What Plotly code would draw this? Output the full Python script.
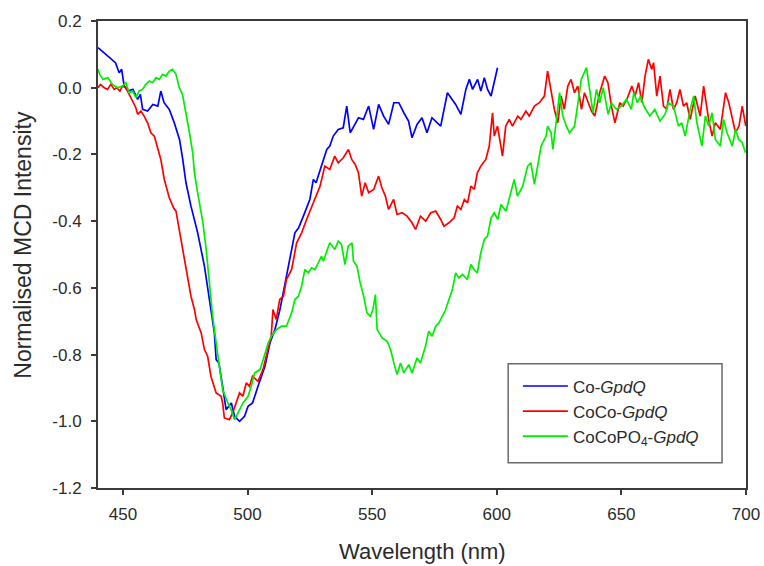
import plotly.graph_objects as go

# ---- Co-GpdQ (blue) ----
co_nm = [440, 442.4, 445, 447, 448.5, 449.5, 450.5, 452, 454, 455.9, 457, 457.9, 459.9, 462, 464,
         465.2, 466.5, 468.6, 470.6, 472.7, 474, 475.3, 477.3, 478.7, 480, 482.7, 484.7, 486.7, 487.4,
         488.5, 490, 491.4, 493.5, 494.8, 496.8, 498.8, 500.2, 502, 504.2, 507, 509, 511, 513, 514.4,
         516.4, 519, 520.5, 522.4, 525, 526.4, 527.5, 529, 531, 531.8, 533, 534.4, 536.4, 538.4, 539.8,
         541.2, 542.7, 544.5, 546.5, 548.6, 550.6, 552.6, 554.6, 556.6, 558.7, 560.7, 562.7, 564.6, 566,
         568, 570, 572, 574, 575.4, 577.5, 580.2, 582.2, 583.5, 585.6, 587.6, 589, 590.3, 592.3, 593.6,
         595, 596.3, 597.7, 599, 600.3]
co_val = [0.12, 0.105, 0.09, 0.075, 0.045, 0.055, 0.005, -0.01, -0.005, -0.035, -0.02, -0.065, -0.07,
          -0.05, -0.055, -0.01, -0.045, -0.065, -0.105, -0.155, -0.215, -0.285, -0.355, -0.395, -0.435,
          -0.535, -0.635, -0.735, -0.815, -0.825, -0.895, -0.965, -0.945, -0.985, -1.0, -0.985, -0.955,
          -0.945, -0.895, -0.835, -0.765, -0.725, -0.665, -0.615, -0.535, -0.435, -0.42, -0.385, -0.335,
          -0.275, -0.285, -0.25, -0.205, -0.185, -0.175, -0.145, -0.125, -0.12, -0.055, -0.135, -0.115,
          -0.09, -0.095, -0.055, -0.125, -0.05, -0.085, -0.11, -0.045, -0.045, -0.075, -0.1, -0.15, -0.11,
          -0.09, -0.135, -0.09, -0.1, -0.115, -0.015, -0.035, -0.05, -0.08, -0.005, 0.025, -0.005, 0.025,
          -0.01, 0.03, -0.005, -0.025, 0.015, 0.06]

# ---- CoCo-GpdQ (red) ----
coco_nm = [440, 441, 442.5, 443.8, 445.2, 446.5, 447.5, 448.8, 449.8, 451.2, 452.5, 453.8, 455.2, 455.9,
           457.2, 458.5, 459.9, 461.2, 462.6, 463.9, 465.2, 466.6, 467.3, 468.6, 470.3, 471.3, 472, 473.3,
           474.7, 476, 477.3, 478.7, 479.4, 481.4, 482.7, 484, 485.3, 487.4, 489.4, 490, 490.7, 492.7, 494,
           495.4, 496.8, 498.1, 499.5, 500.8, 502, 504.2, 506.2, 507.5, 509.5, 510.2, 511.5, 512.9, 514.4,
           515.6, 517.7, 519.7, 521.7, 523.7, 525.7, 526.4, 529.1, 531, 533, 535, 536.4, 538.4, 540.5,
           541.8, 543.2, 544.5, 545.8, 547.2, 548.6, 550.6, 552.6, 553.9, 555.3, 556.6, 558.6, 560, 562,
           564, 566, 567.4, 569.4, 571.5, 573.5, 575.5, 577.5, 578.8, 580.8, 582.9, 584.2, 585.6, 587,
           588.3, 589.6, 591, 592.2, 593.6, 595.6, 597, 598.3, 599, 600.3, 602.3, 603.6, 605, 606.3, 608.4,
           609.7, 611.7, 613, 615.1, 617.1, 619.1, 620.4, 621.8, 623.1, 624.5, 625.8, 627.1, 628.5, 629.8,
           631.2, 632.5, 634, 635.2, 636.6, 638, 639.3, 641.3, 643.3, 644.6, 646, 647.4, 649.4, 650.7,
           652.2, 654.2, 655.5, 656.9, 658.2, 659.5, 660.8, 662.2, 662.9, 664.2, 665.5, 666.9, 668.2,
           669.5, 670.9, 672.2, 673.5, 674.9, 676.2, 677.6, 679.6, 681.6, 683, 685, 686.4, 687.7, 689.7,
           691.8, 693.1, 694.5, 695.8, 697.2, 698.5, 699.9]
coco_val = [0.0, 0.01, 0.0, -0.005, 0.01, -0.005, 0.0, -0.01, 0.005, 0.0, -0.02, -0.04, -0.06, -0.08,
            -0.07, -0.085, -0.105, -0.135, -0.145, -0.18, -0.215, -0.275, -0.295, -0.33, -0.36, -0.37,
            -0.40, -0.455, -0.515, -0.565, -0.625, -0.665, -0.695, -0.735, -0.785, -0.805, -0.865, -0.915,
            -0.925, -0.945, -0.99, -0.995, -0.975, -0.945, -0.915, -0.925, -0.885, -0.895, -0.865, -0.88,
            -0.845, -0.805, -0.745, -0.665, -0.695, -0.635, -0.625, -0.575, -0.545, -0.465, -0.435, -0.395,
            -0.355, -0.345, -0.295, -0.235, -0.245, -0.205, -0.225, -0.21, -0.185, -0.215, -0.23, -0.255,
            -0.325, -0.285, -0.315, -0.305, -0.265, -0.30, -0.325, -0.365, -0.335, -0.38, -0.375, -0.385,
            -0.405, -0.425, -0.385, -0.40, -0.375, -0.37, -0.395, -0.415, -0.405, -0.39, -0.355, -0.365,
            -0.335, -0.345, -0.295, -0.305, -0.255, -0.235, -0.215, -0.175, -0.075, -0.145, -0.115, -0.205,
            -0.115, -0.095, -0.115, -0.085, -0.095, -0.07, -0.085, -0.055, -0.045, -0.025, 0.05, -0.015,
            -0.065, -0.105, -0.025, -0.065, 0.005, 0.025, -0.015, 0.005, -0.065, -0.015, -0.045, -0.07,
            -0.085, -0.015, 0.035, 0.015, -0.055, -0.105, -0.045, -0.055, -0.035, 0.005, -0.025, 0.015,
            -0.045, 0.035, 0.085, 0.055, 0.075, -0.025, 0.035, -0.055, -0.065, -0.005, -0.065, -0.045,
            -0.005, -0.055, -0.045, -0.095, -0.025, -0.085, 0.005, -0.095, -0.145, -0.105, -0.125, -0.015,
            -0.045, -0.095, -0.135, -0.115, -0.055, -0.115]

# ---- CoCoPO4-GpdQ (green) ----
cocopo4_nm = [440, 440.7, 442, 444, 445.8, 447.8, 449.8, 451.2, 452.5, 453.9, 455.2, 456.5, 457.9, 459.2,
              460.6, 461.9, 463.3, 464.6, 465.9, 467.3, 468.6, 469.9, 471.3, 472.6, 473.9, 475.3, 476.7,
              478, 478.7, 480, 481.4, 482.1, 483.4, 484.7, 486, 487.4, 488.7, 490, 492.1, 493.4, 494.8,
              496.1, 498.2, 500.2, 501.5, 502.8, 505, 506.3, 508.3, 509.6, 511.6, 513.6, 515.6, 517.7, 519,
              520.4, 521.7, 523, 524.4, 525.7, 527, 528.4, 529.7, 530.4, 531.7, 533, 535, 536.4, 537.7,
              539.1, 540.4, 541.9, 542.5, 543.9, 545.2, 546.6, 547.9, 549.3, 550.3, 551.3, 552, 554, 556,
              557.4, 558.7, 560, 561.4, 562.7, 564.7, 566, 568, 569.4, 571.4, 572.7, 574.1, 575.5, 576.8,
              578.1, 579.5, 580.8, 582.2, 583.5, 584.8, 586.2, 588.2, 589.6, 590.9, 592.2, 593.6, 595, 596.3,
              597.7, 599, 600.4, 601.7, 603.7, 605.6, 607, 608.3, 610.4, 612.4, 613.7, 615.1, 616.4, 617.8,
              619.8, 620.4, 621.8, 622.5, 623.8, 625.2, 626.5, 627.9, 629.2, 631.2, 632.6, 633.9, 636,
              637.3, 638.6, 640, 641.3, 642.7, 644.7, 646, 648, 650, 652, 654, 655, 656.4, 657.7, 659,
              661.4, 663.4, 665.5, 667.5, 668.9, 670.9, 672.9, 674.2, 675.6, 677.6, 679, 680.3, 682.3,
              683.7, 685, 686.4, 687.7, 689.7, 691, 692.4, 694.5, 695.8, 697.1, 698.5, 699.8]
cocopo4_val = [0.055, 0.04, 0.025, 0.03, 0.01, 0.0, 0.005, 0.015, -0.015, -0.01, -0.03, -0.01, -0.005,
               0.01, 0.02, 0.015, 0.03, 0.025, 0.04, 0.035, 0.05, 0.055, 0.04, 0.0, -0.02, -0.075, -0.135,
               -0.195, -0.255, -0.315, -0.375, -0.405, -0.485, -0.585, -0.685, -0.765, -0.835, -0.905,
               -0.945, -0.965, -0.995, -0.975, -0.945, -0.925, -0.895, -0.855, -0.845, -0.815, -0.765,
               -0.745, -0.725, -0.715, -0.715, -0.675, -0.635, -0.625, -0.595, -0.545, -0.555, -0.54,
               -0.545, -0.525, -0.505, -0.52, -0.495, -0.465, -0.485, -0.46, -0.47, -0.53, -0.475, -0.465,
               -0.52, -0.535, -0.585, -0.625, -0.675, -0.685, -0.665, -0.62, -0.725, -0.75, -0.76, -0.785,
               -0.825, -0.86, -0.825, -0.855, -0.83, -0.855, -0.81, -0.825, -0.775, -0.73, -0.745, -0.715,
               -0.705, -0.685, -0.665, -0.635, -0.605, -0.555, -0.57, -0.56, -0.575, -0.53, -0.545, -0.555,
               -0.495, -0.455, -0.445, -0.39, -0.375, -0.395, -0.35, -0.37, -0.315, -0.275, -0.325, -0.295,
               -0.235, -0.225, -0.29, -0.235, -0.175, -0.145, -0.115, -0.135, -0.185, -0.105, -0.015,
               -0.085, -0.115, -0.135, -0.115, -0.045, 0.025, 0.06, -0.005, -0.075, -0.005, -0.045, 0.0,
               -0.08, -0.045, -0.065, -0.055, -0.035, -0.065, -0.015, -0.045, -0.025, -0.055, -0.085,
               -0.065, -0.1, -0.08, -0.045, -0.055, -0.115, -0.105, -0.145, -0.065, -0.025, -0.105, -0.175,
               -0.085, -0.115, -0.075, -0.155, -0.175, -0.095, -0.135, -0.175, -0.125, -0.155, -0.165,
               -0.195]

series_names = ["Co-<i>GpdQ</i>", "CoCo-<i>GpdQ</i>", "CoCoPO<sub>4</sub>-<i>GpdQ</i>"]
series_colors = ["#0000ff", "#ff0000", "#00ee00"]

x_ticks = [450, 500, 550, 600, 650, 700]
x_ticktext = ["450", "500", "550", "600", "650", "700"]
y_ticks = [0.2, 0.0, -0.2, -0.4, -0.6, -0.8, -1.0, -1.2]
y_ticktext = ["0.2", "0.0", "-0.2", "-0.4", "-0.6", "-0.8", "-1.0", "-1.2"]

FONT = "Liberation Sans, Arial, sans-serif"
TXT = "#2a2a2a"

fig = go.Figure()
for xs, ys, name, col in zip([co_nm, coco_nm, cocopo4_nm], [co_val, coco_val, cocopo4_val],
                             series_names, series_colors):
    fig.add_trace(go.Scatter(x=xs, y=ys, mode="lines", name=name,
                             line=dict(color=col, width=1.7)))

axis_common = dict(showline=True, linecolor="#3a3a3a", linewidth=2, mirror=True,
                   ticks="outside", ticklen=5, tickcolor="#3a3a3a", tickwidth=1.5,
                   showgrid=False, zeroline=False, automargin=False,
                   tickfont=dict(family=FONT, size=17, color=TXT))

fig.update_layout(
    width=764, height=566,
    margin=dict(l=98, r=18, t=21, b=78),
    paper_bgcolor="white", plot_bgcolor="white",
    font=dict(family=FONT, color=TXT),
    xaxis=dict(range=[440, 700], tickvals=x_ticks, ticktext=x_ticktext,
               ticklabelstandoff=5, **axis_common),
    yaxis=dict(range=[-1.2, 0.2], tickvals=y_ticks, ticktext=y_ticktext,
               ticklabelstandoff=6, **axis_common),
    legend=dict(x=0.648, y=0.256, xanchor="left", yanchor="top",
                bgcolor="rgba(0,0,0,0)", borderwidth=0,
                font=dict(family=FONT, size=17, color=TXT),
                itemwidth=45, tracegroupgap=0),
    showlegend=True,
    annotations=[
        dict(text="Wavelength (nm)", xref="paper", yref="paper", x=0.5, y=-0.136,
             xanchor="center", yanchor="middle", showarrow=False,
             font=dict(family=FONT, size=22, color=TXT)),
        dict(text="Normalised MCD Intensity", xref="paper", yref="paper", x=-0.1157, y=0.521,
             xanchor="center", yanchor="middle", showarrow=False, textangle=-90,
             font=dict(family=FONT, size=23, color=TXT)),
    ],
    shapes=[
        dict(type="rect", xref="paper", yref="paper", x0=0.633, x1=0.963, y0=0.054, y1=0.266,
             line=dict(color="#6a6a6a", width=1.5), fillcolor="rgba(0,0,0,0)", layer="below"),
    ],
)

fig.write_html("out.html", config={"displayModeBar": False},
               post_script="document.body.style.margin='0px';document.body.style.overflow='hidden';")
